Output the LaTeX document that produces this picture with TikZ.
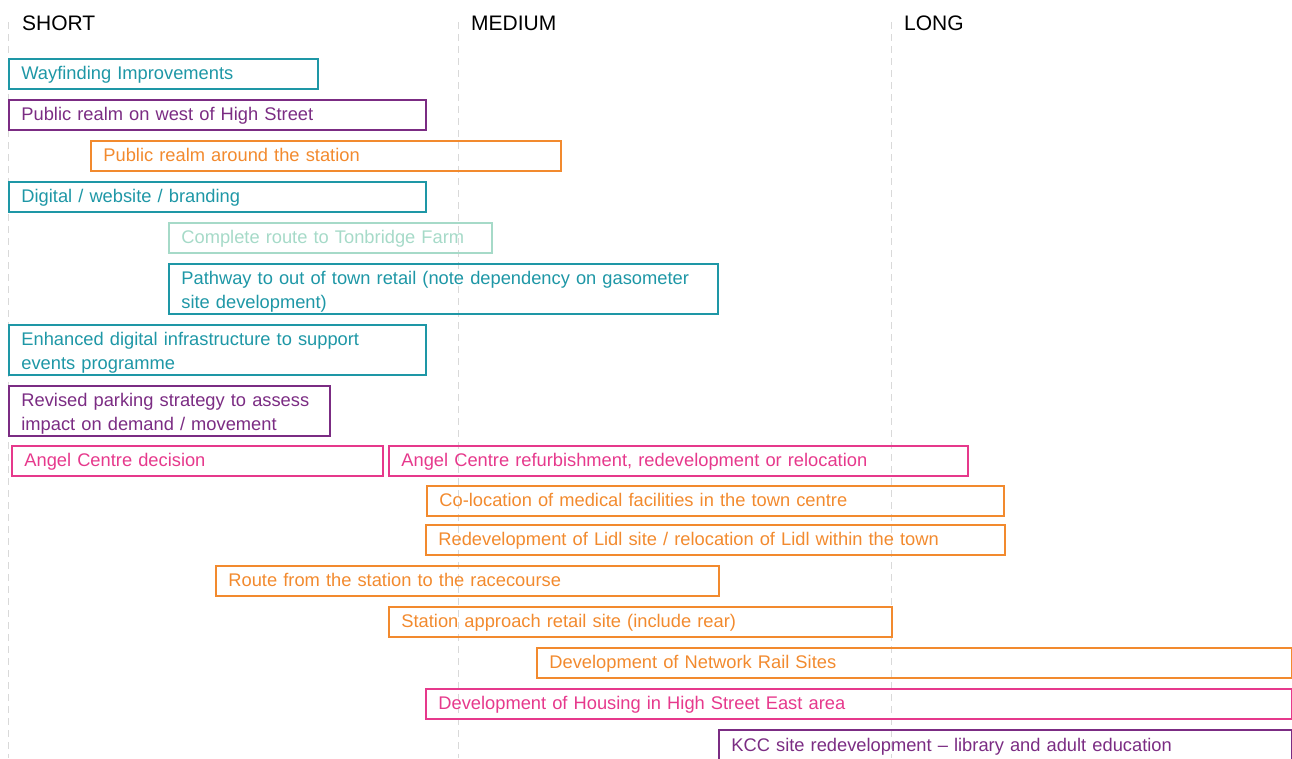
\documentclass[tikz,border=0pt]{standalone}
\usepackage{fontspec}
\setmainfont{Liberation Sans}
\definecolor{cteal}{HTML}{1E97A6}
\definecolor{cpurple}{HTML}{7B2C83}
\definecolor{corange}{HTML}{F28A2E}
\definecolor{cpink}{HTML}{E6398C}
\definecolor{clight}{HTML}{A6DAC8}
\tikzset{
  taskbox/.style={draw, line width=1.8pt, anchor=north west, inner xsep=12.5pt, inner ysep=0pt, align=left, font=\fontsize{18.3}{23.5}\selectfont, text height=15.5pt, text depth=4.1pt},
  twolines/.style={text depth=23.5pt},
  head/.style={anchor=base west, font=\fontsize{21}{25}\selectfont, inner sep=0pt, text=black},
  gridline/.style={draw=gray!30, line width=1pt, dash pattern=on 7pt off 5pt}
}
\newcommand\task[8][]{\pgfmathsetmacro\tw{#5-25}\node[taskbox, draw=#7, text=#7, minimum width=#5pt, minimum height=#6pt, text width=\tw pt, #1] (#2) at (#3,#4) {#8};}
\begin{document}
\begin{tikzpicture}[x=1pt,y=-1pt]
\useasboundingbox (0,0) rectangle (1292,758);
\clip (0,0) rectangle (1292,758);
\coordinate (s0) at (8.5,22); \coordinate (s1) at (8.5,758);
\coordinate (m0) at (458,22); \coordinate (m1) at (458,758);
\coordinate (l0) at (891,22); \coordinate (l1) at (891,758);
\draw[gridline] (s0) -- (s1);
\draw[gridline] (m0) -- (m1);
\draw[gridline] (l0) -- (l1);
\node[head] (hs) at (22,30) {SHORT};
\node[head] (hm) at (471,30) {MEDIUM};
\node[head] (hl) at (904,30) {LONG};
\task{t1}{8}{58}{309}{30}{cteal}{Wayfinding Improvements}
\task{t2}{8}{99}{417}{30}{cpurple}{Public realm on west of High Street}
\task{t3}{90}{140}{470}{30}{corange}{Public realm around the station}
\task{t4}{8}{181}{417}{30}{cteal}{Digital / website / branding}
\task{t5}{168}{222}{323}{30}{clight}{Complete route to Tonbridge Farm}
\task[twolines]{t6}{168}{263}{549}{50}{cteal}{Pathway to out of town retail (note dependency on gasometer\\site development)}
\task[twolines]{t7}{8}{324}{417}{50}{cteal}{Enhanced digital infrastructure to support\\events programme}
\task[twolines]{t8}{8}{385}{321}{50}{cpurple}{Revised parking strategy to assess\\impact on demand / movement}
\task{t9}{11}{445}{371}{30}{cpink}{Angel Centre decision}
\task{t10}{388}{445}{579}{30}{cpink}{Angel Centre refurbishment, redevelopment or relocation}
\task{t11}{426}{485}{577}{30}{corange}{Co-location of medical facilities in the town centre}
\task{t12}{425}{524}{579}{30}{corange}{Redevelopment of Lidl site / relocation of Lidl within the town}
\task{t13}{215}{565}{503}{30}{corange}{Route from the station to the racecourse}
\task{t14}{388}{606}{503}{30}{corange}{Station approach retail site (include rear)}
\task{t15}{536}{647}{755}{30}{corange}{Development of Network Rail Sites}
\task{t16}{425}{688}{866}{30}{cpink}{Development of Housing in High Street East area}
\task{t17}{718}{729}{573}{32}{cpurple}{KCC site redevelopment -- library and adult education}
\end{tikzpicture}
\end{document}
